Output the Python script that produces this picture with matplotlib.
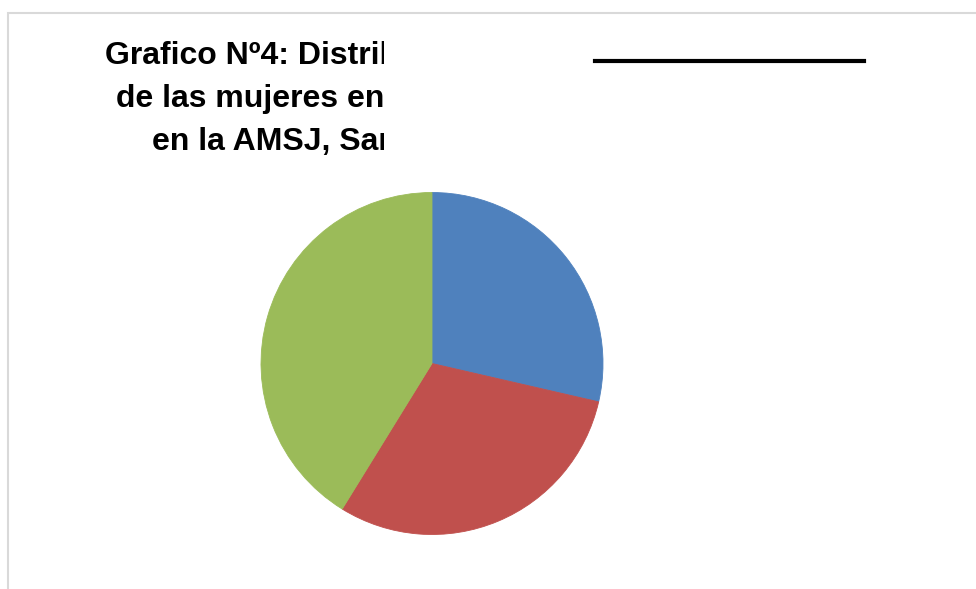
import matplotlib
matplotlib.use("Agg")
import matplotlib.pyplot as plt
from matplotlib.patches import Rectangle
from matplotlib.lines import Line2D
from matplotlib.transforms import Bbox

# ---------------------------------------------------------------------------
# Data (shares, %)
# ---------------------------------------------------------------------------
categories = ["Grupo 1", "Grupo 2", "Grupo 3"]
shares = [28.6, 30.2, 41.2]
colors = ["#4F81BD", "#C0504D", "#9BBB59"]

title_lines = [
    "Grafico Nº4: Distribución",
    "de las mujeres en",
    "en la AMSJ, San",
]

W, H = 976, 589
fig = plt.figure(figsize=(W / 100, H / 100), dpi=100)
fig.patch.set_facecolor("white")

# light grey chart frame (runs off the right and bottom edges)
fig.patches.append(Rectangle((8 / W, -0.1), 1.2, (H - 13) / H + 0.1,
                             transform=fig.transFigure, fill=False,
                             edgecolor="#D9D9D9", linewidth=1.5))

# title, cut off on the right as in the original
clip = Bbox.from_extents(0, 0, 384, H)
title_x = [105, 116, 152]
title_base = [64, 107, 150]
for txt, x, yb in zip(title_lines, title_x, title_base):
    t = fig.text(x / W, 1 - yb / H, txt, fontsize=23, fontweight="bold",
                 family="Liberation Sans", ha="left", va="baseline",
                 color="black")
    t.set_clip_box(clip)
    t.set_clip_on(True)

# black rule at the top right
fig.lines.append(Line2D([595 / W, 864 / W], [1 - 61 / H, 1 - 61 / H],
                        transform=fig.transFigure, color="black",
                        linewidth=3))

# pie
cx, cy, r = 432, 363.5, 171
ax = fig.add_axes([(cx - r) / W, 1 - (cy + r) / H, 2 * r / W, 2 * r / H])
wedges, _ = ax.pie(shares, colors=colors, startangle=90, counterclock=False,
                   radius=1.0)
for w, c in zip(wedges, colors):
    w.set_edgecolor(c)
    w.set_linewidth(0.6)
ax.set_xlim(-1, 1)
ax.set_ylim(-1, 1)
ax.set_aspect("equal")
ax.axis("off")

fig.savefig("out.png", dpi=100)
plt.close("all")
